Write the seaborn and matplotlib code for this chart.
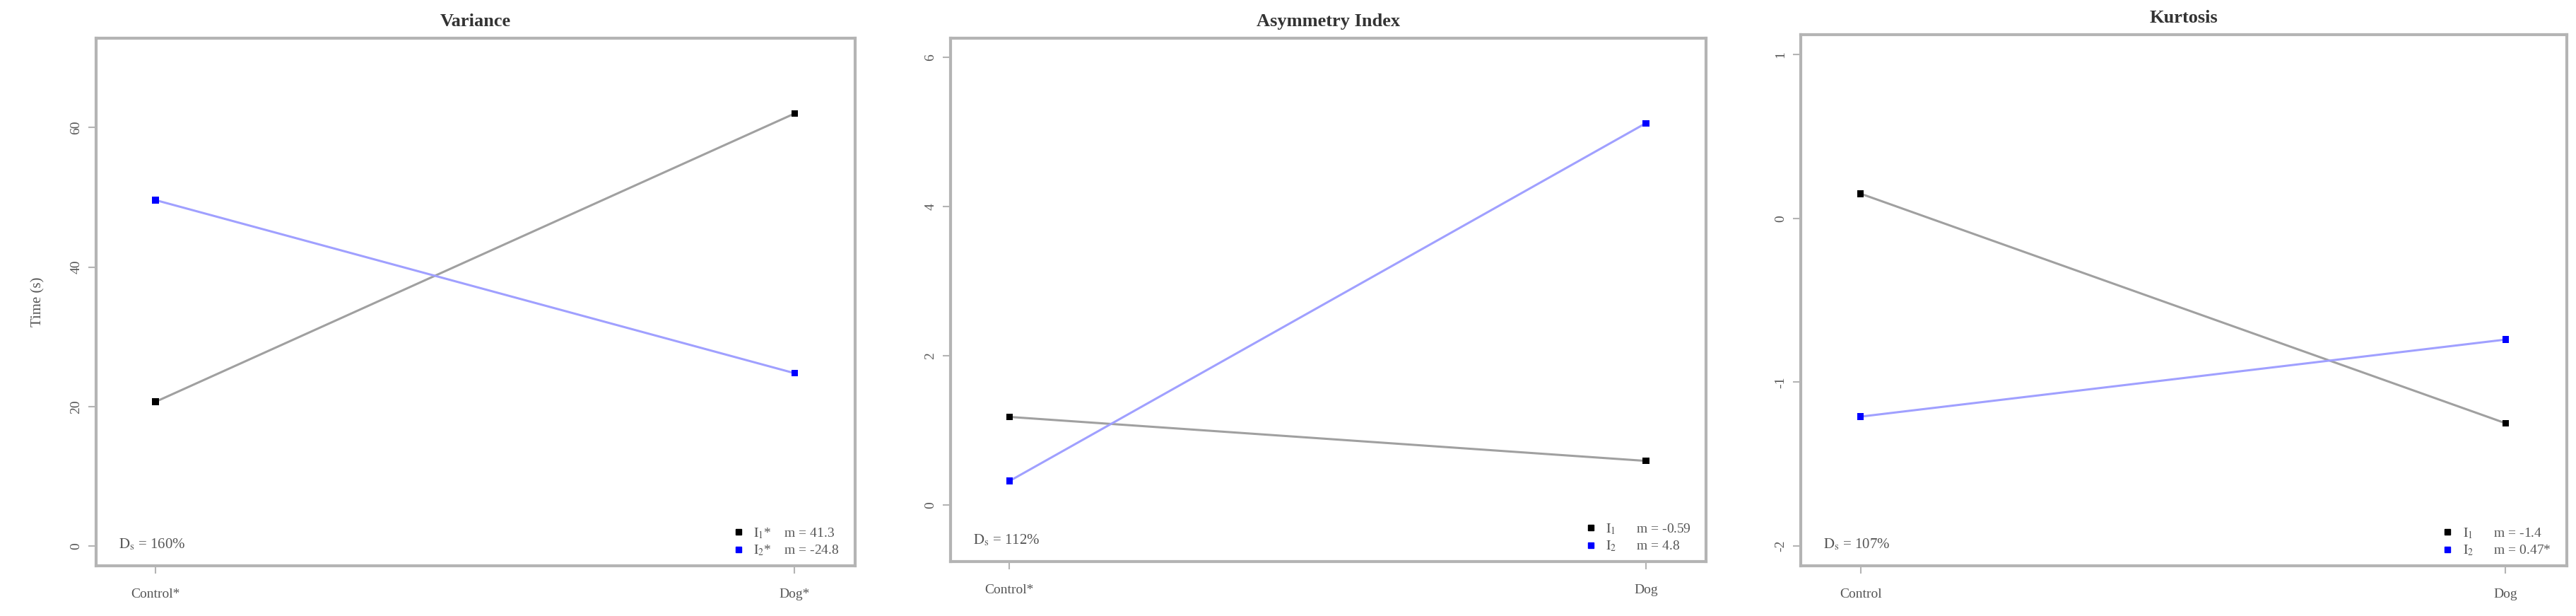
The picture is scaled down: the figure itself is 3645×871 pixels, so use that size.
import seaborn as sns
import pandas as pd
import matplotlib.pyplot as plt
from matplotlib.lines import Line2D

groups = ["Control", "Dog"]

titles = ["Variance", "Asymmetry Index", "Kurtosis"]
xlabels = [["Control*", "Dog*"], ["Control*", "Dog"], ["Control", "Dog"]]
ds_text = ["160%", "112%", "107%"]

var_i1 = [20.7, 62.0]
var_i2 = [49.6, 24.8]
asy_i1 = [1.18, 0.59]
asy_i2 = [0.32, 5.12]
kur_i1 = [0.15, -1.25]
kur_i2 = [-1.21, -0.74]

legend_i1 = [r"$\mathrm{I}_1$*    m = 41.3", r"$\mathrm{I}_1$      m = -0.59", r"$\mathrm{I}_1$      m = -1.4"]
legend_i2 = [r"$\mathrm{I}_2$*    m = -24.8", r"$\mathrm{I}_2$      m = 4.8", r"$\mathrm{I}_2$      m = 0.47*"]

yticks = [[0, 20, 40, 60], [0, 2, 4, 6], [-2, -1, 0, 1]]
ylims = [(0, 70), (-0.5, 6), (-2, 1)]

series = [(var_i1, var_i2), (asy_i1, asy_i2), (kur_i1, kur_i2)]

rows = []
for p, (s1, s2) in enumerate(series):
    for g, v in zip(groups, s1):
        rows.append({"panel": p, "group": g, "series": "I1", "value": v})
    for g, v in zip(groups, s2):
        rows.append({"panel": p, "group": g, "series": "I2", "value": v})
data = pd.DataFrame(rows)

sns.set_style("white")
plt.rcParams["font.family"] = ["Liberation Serif", "DejaVu Serif"]
plt.rcParams["mathtext.fontset"] = "stix"

line_cols = {"I1": "#a0a0a0", "I2": "#a0a0ff"}
mark_cols = {"I1": "black", "I2": "blue"}
frame_col = "#b4b4b4"
text_col = "#555555"

fig = plt.figure(figsize=(36.45, 8.71), dpi=100)
boxes = [
    [0.0373, 0.0815, 0.2947, 0.8565],
    [0.3689, 0.0884, 0.2935, 0.8496],
    [0.6990, 0.0815, 0.2974, 0.8622],
]

for p in range(3):
    ax = fig.add_axes(boxes[p])
    sub = data[data["panel"] == p]
    sns.lineplot(data=sub, x="group", y="value", hue="series", palette=line_cols,
                 linewidth=2.2, legend=False, ax=ax, sort=False)
    sns.scatterplot(data=sub, x="group", y="value", hue="series", palette=mark_cols,
                    marker="s", s=45, linewidth=0, legend=False, ax=ax, zorder=3)

    lo, hi = ylims[p]
    ext = (hi - lo) * 0.04
    ax.set_ylim(lo - ext, hi + ext)
    ax.set_xlim(-0.093, 1.095)
    ax.set_xticks([0, 1])
    ax.set_xticklabels(xlabels[p])
    ax.set_yticks(yticks[p])
    ax.set_yticklabels([str(t) for t in yticks[p]], rotation=90, va="center")
    ax.set_xlabel("")
    ax.set_ylabel("Time (s)" if p == 0 else "", fontsize=15, color=text_col, labelpad=26)
    ax.set_title(titles[p], fontsize=19, fontweight="bold", color="#333333", pad=12)

    ax.tick_params(axis="both", bottom=True, left=True, direction="out", length=8,
                   width=1.5, color=frame_col, labelsize=14, labelcolor=text_col, pad=6)
    ax.tick_params(axis="x", pad=15)
    for sp in ax.spines.values():
        sp.set_color(frame_col)
        sp.set_linewidth(3)

    ax.text(0.03, 0.04, r"$\mathrm{D}_\mathrm{s}$ = " + ds_text[p], transform=ax.transAxes,
            fontsize=15, color=text_col, ha="left", va="center")

    handles = [
        Line2D([], [], linestyle="none", marker="s", markersize=6, color=mark_cols["I1"]),
        Line2D([], [], linestyle="none", marker="s", markersize=6, color=mark_cols["I2"]),
    ]
    ax.legend(handles, [legend_i1[p], legend_i2[p]], loc="lower right",
              bbox_to_anchor=(0.99, 0.0), frameon=False, fontsize=14,
              handlelength=0.6, handletextpad=0.8, labelspacing=0.25,
              borderaxespad=0.2, labelcolor=text_col)

fig.savefig("out.png", dpi=100)
